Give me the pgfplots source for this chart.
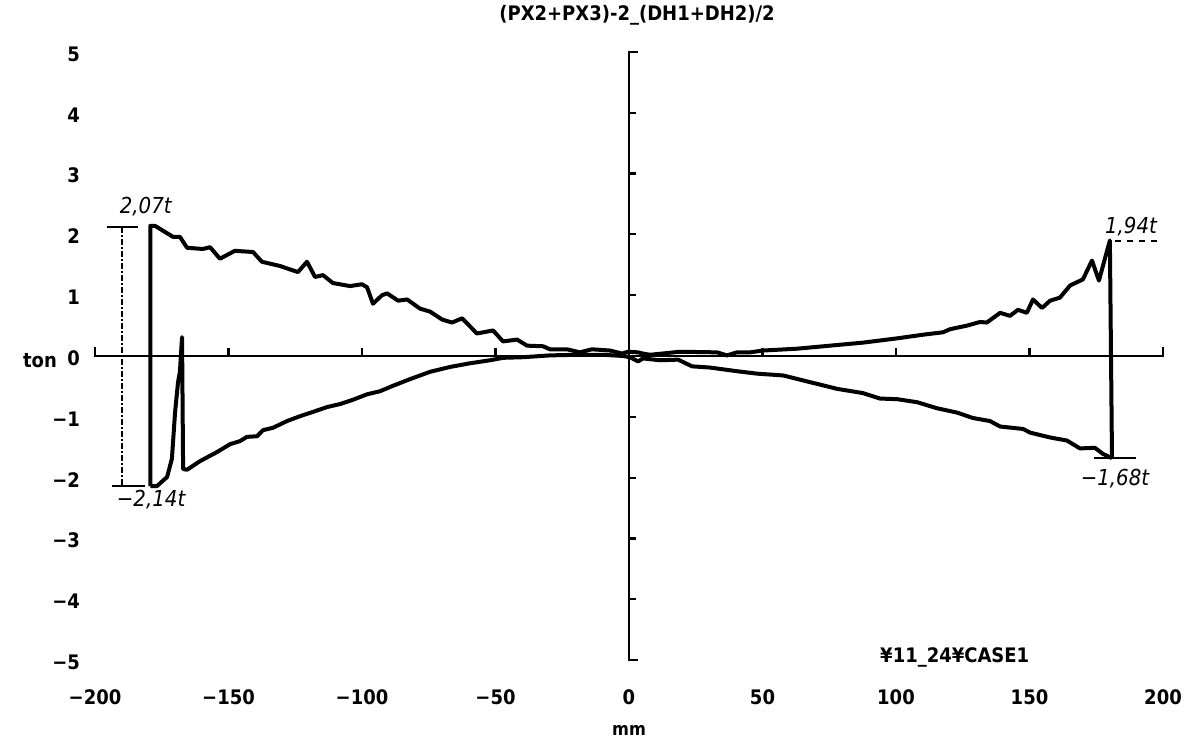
\documentclass[border=0pt]{standalone}
\usepackage{fontspec}
\setmainfont{DejaVu Sans Condensed}
\usepackage{pgfplots}
\pgfplotsset{compat=1.18}
\begin{document}
\begin{tikzpicture}
\path[use as bounding box] (0,0) rectangle (596.5pt,372.5pt);
\begin{axis}[
  at={(47.5pt,42.5pt)}, anchor=south west,
  scale only axis, width=534pt, height=304pt,
  xmin=-200, xmax=200, ymin=-5, ymax=5,
  axis x line*=bottom, axis y line*=left,
  axis line style={draw=none},
  major tick length=0pt,
  xtick={-200,-150,-100,-50,0,50,100,150,200},
  xticklabels={−200,−150,−100,−50,0,50,100,150,200},
  ytick={-5,-4,-3,-2,-1,0,1,2,3,4,5},
  yticklabels={−5,−4,−3,−2,−1,0,1,2,3,4,5},
  xticklabel style={anchor=center, yshift=-18.5pt, font=\bfseries\fontsize{10}{12}\selectfont},
  yticklabel style={anchor=east, xshift=-4pt, yshift=-1pt, font=\bfseries\fontsize{10}{12}\selectfont},
  clip=false,
]
% axis lines drawn as in the plotter original
\draw[line width=1.4pt] (axis cs:-200,0.15) -- (axis cs:-200,0) -- (axis cs:200,0) -- (axis cs:200,0.15);
\pgfplotsinvokeforeach{-150,-100,-50,50,100,150}{\draw[line width=1.1pt] (axis cs:#1,0) -- (axis cs:#1,0.13);}
\draw[line width=1.4pt] (axis cs:3.2,5) -- (axis cs:0,5) -- (axis cs:0,-5) -- (axis cs:3.2,-5);
\pgfplotsinvokeforeach{-4,-3,-2,-1,1,2,3,4}{\draw[line width=1.1pt] (axis cs:0,#1) -- (axis cs:2.6,#1);}

\addplot[black, line width=2pt, line join=round] coordinates {
(-179.3,-2.14) (-179.3,2.14) (-177.5,2.14) (-170.8,1.96) (-168.2,1.96) (-165.5,1.78)
(-159.6,1.76) (-156.9,1.79) (-153.2,1.60) (-147.6,1.73) (-140.8,1.71) (-137.5,1.55)
(-130.7,1.48) (-124,1.38) (-120.6,1.55) (-117.6,1.30) (-114.6,1.33) (-110.9,1.20)
(-104.5,1.15) (-100,1.18) (-98.1,1.13) (-95.9,0.86) (-92.5,1.0) (-90.6,1.03)
(-86.5,0.91) (-83.1,0.93) (-78.3,0.78) (-74.5,0.73) (-70,0.60) (-66.3,0.55)
(-62.5,0.62) (-59.6,0.49) (-57,0.37) (-50.9,0.42) (-47.2,0.24) (-41.9,0.27)
(-38.2,0.17) (-32.2,0.16) (-29.6,0.11) (-23.2,0.11) (-18.4,0.06) (-13.9,0.11)
(-7.1,0.09) (-2.6,0.04) (-0.4,0.07) (3.4,0.06) (5.2,0.04) (7.9,0.02)
(19.1,0.07) (33,0.06) (36.7,0.01) (40.4,0.06) (45.3,0.06) (50.2,0.09)
(62.9,0.12) (75.3,0.17) (87.6,0.22) (100.4,0.29) (110.1,0.35) (117.6,0.39)
(120.2,0.44) (126.6,0.50) (131.5,0.56) (134,0.55) (139,0.71) (142.7,0.66)
(145.7,0.76) (149,0.71) (151.3,0.93) (154.7,0.79) (157.7,0.91) (161.4,0.96)
(165.2,1.16) (170,1.26) (173.4,1.57) (176,1.24) (180.1,1.90) (180.9,-1.68)
};
\addplot[black, line width=2pt, line join=round] coordinates {
(-179.3,-2.14) (-176.8,-2.14) (-173,-1.99) (-171.2,-1.69) (-170,-0.92) (-168.9,-0.43)
(-168.2,-0.26) (-167.4,0.31) (-167,-1.86) (-165.5,-1.87) (-160.7,-1.73) (-154.3,-1.58)
(-149.4,-1.45) (-145.7,-1.40) (-143.1,-1.33) (-139.3,-1.32) (-137.1,-1.22) (-133.3,-1.18)
(-128.1,-1.07) (-123.2,-0.99) (-118.4,-0.92) (-113.1,-0.84) (-108.2,-0.79) (-103.4,-0.72)
(-98.1,-0.63) (-93.3,-0.58) (-88.4,-0.49) (-82,-0.38) (-74.5,-0.26) (-67,-0.18)
(-59.6,-0.12) (-52,-0.07) (-47.2,-0.03) (-39.7,-0.02) (-29.6,0.01) (-19.5,0.02)
(-9.7,0.02) (-2.2,0) (0.4,-0.02) (3.4,-0.09) (5.2,-0.04) (11.6,-0.07)
(18.4,-0.06) (23.6,-0.17) (30.3,-0.19) (40.4,-0.25) (47.9,-0.29) (57.7,-0.32)
(67.8,-0.43) (77.9,-0.54) (87.6,-0.61) (94,-0.70) (100.4,-0.71) (107.9,-0.76)
(115.4,-0.86) (122.8,-0.93) (128.8,-1.02) (135.2,-1.07) (139,-1.16) (147.6,-1.20)
(150.2,-1.26) (157.7,-1.34) (164,-1.39) (168.9,-1.52) (174.5,-1.51) (177.5,-1.61)
(180.9,-1.68)
};

% hand-drawn annotations
\draw[line width=1.1pt] (axis cs:-195.5,2.12) -- (axis cs:-184,2.12);
\draw[line width=1pt, densely dashdotted] (axis cs:-190,2.12) -- (axis cs:-190,-2.14);
\draw[line width=1.1pt] (axis cs:-193.6,-2.14) -- (axis cs:-181.3,-2.14);
\draw[line width=1.1pt, dashed] (axis cs:182,1.89) -- (axis cs:198,1.89);
\draw[line width=1.1pt] (axis cs:174,-1.68) -- (axis cs:190,-1.68);
\node[font=\itshape\fontsize{11}{13}\selectfont] at (axis cs:-181,2.45) {2,07t};
\node[font=\itshape\fontsize{11}{13}\selectfont] at (axis cs:-179,-2.36) {−2,14t};
\node[font=\itshape\fontsize{11}{13}\selectfont] at (axis cs:188,2.13) {1,94t};
\node[font=\itshape\fontsize{11}{13}\selectfont] at (axis cs:182,-2.02) {−1,68t};

% texts
\node[font=\bfseries\fontsize{10}{12}\selectfont] at (axis cs:3,5) [yshift=18.5pt] {(PX2+PX3)-2\_(DH1+DH2)/2};
\node[font=\bfseries\fontsize{10}{12}\selectfont] at (axis cs:-200,0) [xshift=-27.5pt, yshift=-2.5pt] {ton};
\node[font=\bfseries\fontsize{9}{11}\selectfont] at (axis cs:0,-5) [yshift=-35pt] {mm};
\node[font=\bfseries\fontsize{10}{12}\selectfont] at (axis cs:122,-5) [yshift=1.5pt] {¥11\_24¥CASE1};
\end{axis}
\end{tikzpicture}
\end{document}
